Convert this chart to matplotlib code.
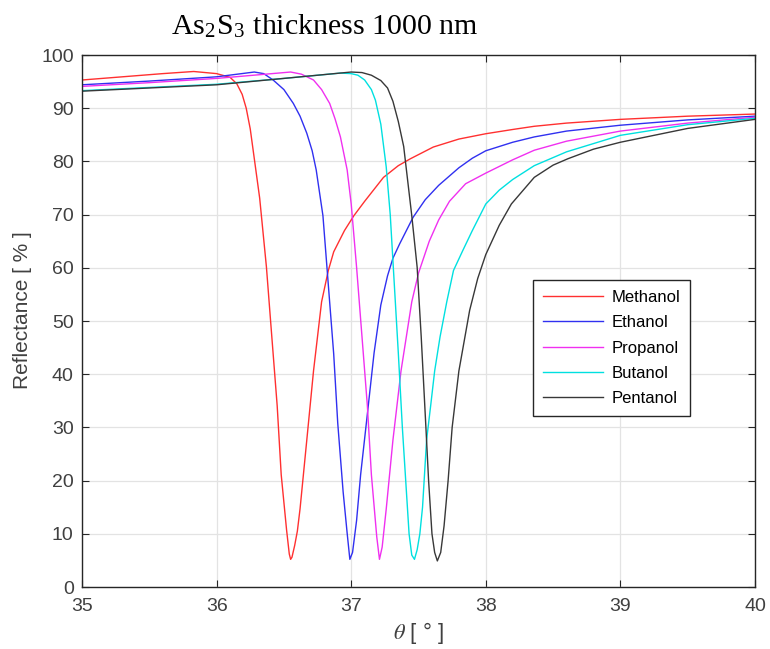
import matplotlib
matplotlib.use('Agg')
import matplotlib.pyplot as plt

# angle [deg] / reflectance [%]
x_meth = [35.0, 35.2, 35.4, 35.6, 35.83, 36.0, 36.1, 36.15, 36.19, 36.22, 36.25, 36.32, 36.37,
          36.41, 36.45, 36.48, 36.52, 36.54, 36.55, 36.56, 36.58, 36.6, 36.62, 36.67, 36.72,
          36.78, 36.83, 36.87, 36.95, 37.02, 37.1, 37.24, 37.35, 37.44, 37.61, 37.8, 38.0,
          38.2, 38.36, 38.6, 39.0, 39.5, 40.0]
y_meth = [95.3, 95.7, 96.1, 96.5, 96.9, 96.5, 95.8, 94.6, 92.6, 90.0, 86.1, 73.1, 60.2,
          47.1, 34.1, 21.1, 10.7, 6.2, 5.2, 5.6, 7.8, 10.5, 14.7, 27.6, 40.6,
          53.6, 59.5, 63.0, 67.0, 69.8, 72.5, 77.0, 79.2, 80.5, 82.7, 84.2, 85.2,
          86.0, 86.6, 87.2, 87.9, 88.5, 88.9]

x_eth = [35.0, 35.5, 36.0, 36.28, 36.35, 36.42, 36.5, 36.57, 36.62, 36.67, 36.71, 36.74, 36.79,
         36.83, 36.87, 36.9, 36.94, 36.97, 36.99, 37.01, 37.04, 37.07, 37.12, 37.17, 37.22,
         37.27, 37.31, 37.36, 37.46, 37.55, 37.65, 37.8, 37.9, 38.0, 38.2, 38.36, 38.6,
         39.0, 39.5, 40.0]
y_eth = [94.4, 95.1, 95.9, 96.8, 96.5, 95.3, 93.5, 90.9, 88.5, 85.3, 82.0, 78.4, 69.8,
         56.8, 43.8, 30.8, 17.9, 10.1, 5.2, 6.5, 12.5, 21.1, 32.5, 44.0, 53.0,
         58.5, 61.8, 64.5, 69.5, 72.8, 75.5, 78.8, 80.6, 82.0, 83.6, 84.6, 85.7,
         86.8, 87.8, 88.5]

x_prop = [35.0, 35.5, 36.0, 36.55, 36.63, 36.72, 36.78, 36.84, 36.88, 36.92, 36.97, 37.0,
          37.04, 37.08, 37.12, 37.15, 37.19, 37.21, 37.23, 37.26, 37.31, 37.37, 37.45, 37.5,
          37.58, 37.65, 37.73, 37.85, 38.0, 38.2, 38.36, 38.6, 39.0, 39.5, 40.0]
y_prop = [94.1, 94.8, 95.6, 96.8, 96.4, 95.3, 93.5, 90.9, 88.0, 84.6, 78.4, 72.0,
          60.1, 47.1, 34.1, 21.1, 9.4, 5.2, 7.5, 14.6, 27.6, 40.6, 53.6, 59.0,
          65.0, 69.0, 72.5, 75.8, 77.8, 80.3, 82.1, 83.8, 85.7, 87.2, 88.3]

x_but = [35.0, 35.5, 36.0, 36.5, 36.92, 37.0, 37.05, 37.1, 37.15, 37.18, 37.22, 37.26, 37.29,
         37.32, 37.35, 37.38, 37.41, 37.43, 37.45, 37.47, 37.49, 37.51, 37.53, 37.56, 37.59,
         37.62, 37.66, 37.71, 37.76, 37.83, 37.9, 38.0, 38.1, 38.2, 38.36, 38.6, 39.0,
         39.5, 40.0]
y_but = [93.3, 93.9, 94.5, 95.6, 96.6, 96.5, 96.2, 95.3, 93.5, 91.5, 87.0, 79.0, 70.0,
         57.0, 44.0, 30.0, 18.0, 10.0, 6.0, 5.2, 7.0, 10.0, 15.0, 27.6, 34.0,
         40.6, 47.0, 53.6, 59.5, 63.3, 67.0, 72.0, 74.6, 76.6, 79.2, 81.8, 84.9,
         86.9, 88.1]

x_pent = [35.0, 35.5, 36.0, 36.5, 37.0, 37.08, 37.15, 37.22, 37.27, 37.31, 37.35, 37.39, 37.45,
          37.49, 37.52, 37.555, 37.575, 37.6, 37.62, 37.64, 37.665, 37.69, 37.72, 37.75, 37.8,
          37.88, 37.94, 38.0, 38.1, 38.19, 38.36, 38.5, 38.61, 38.8, 39.0, 39.5, 40.0]
y_pent = [93.2, 93.8, 94.4, 95.6, 96.8, 96.7, 96.2, 95.2, 93.8, 91.3, 87.5, 82.8, 69.8,
          60.1, 47.1, 30.0, 20.0, 10.0, 6.5, 4.9, 6.5, 11.5, 20.0, 30.0, 40.6,
          52.0, 58.0, 62.5, 68.0, 72.0, 77.0, 79.3, 80.5, 82.3, 83.6, 86.2, 87.9]

labels = ['Methanol', 'Ethanol', 'Propanol', 'Butanol', 'Pentanol']
colors = ['#ff3030', '#3030f0', '#f030f0', '#00e0e0', '#383838']

plt.rcParams['font.family'] = ['Liberation Sans', 'DejaVu Sans']
plt.rcParams['mathtext.fontset'] = 'stix'

fig = plt.figure(figsize=(7.7, 6.49), dpi=100)
ax = fig.add_axes([82/770, 1 - 587/649, 673/770, 532/649])

curves = [(x_meth, y_meth), (x_eth, y_eth), (x_prop, y_prop), (x_but, y_but), (x_pent, y_pent)]
for (xs, ys), lab, c in zip(curves, labels, colors):
    ax.plot(xs, ys, color=c, lw=1.0, label=lab)

ax.set_xlim(35, 40)
ax.set_ylim(0, 100)
ax.set_xticks(range(35, 41))
ax.set_yticks(range(0, 101, 10))
ax.grid(True, color='#e3e3e3', lw=0.9)
ax.set_axisbelow(True)
ax.tick_params(direction='in', length=5, top=True, right=True, labelsize=14,
               colors='#262626', labelcolor='#404040')
ax.tick_params(axis='x', pad=8)
ax.tick_params(axis='y', pad=6)
for s in ax.spines.values():
    s.set_color('#262626')
    s.set_linewidth(1.0)

ax.set_ylabel('Reflectance [ % ]', fontsize=15, color='#404040')
ax.yaxis.set_label_coords(-0.075, 0.52)
ax.set_xlabel(r'$\theta$ [ ° ]', fontsize=16, color='#404040')
ax.xaxis.set_label_coords(0.5, -0.062)

leg = ax.legend(loc='lower left', bbox_to_anchor=(0.67, 0.321), fontsize=12,
                handlelength=3.6, handletextpad=0.5, labelspacing=0.62, fancybox=False,
                framealpha=1, edgecolor='#262626', borderpad=0.6, borderaxespad=0)
leg.get_frame().set_linewidth(1.0)

fig.text(325/770, 1 - 26/649, r'As$_\mathregular{2}$S$_\mathregular{3}$ thickness 1000 nm',
         ha='center', va='center', fontsize=21.5, family='Liberation Serif')

fig.savefig('out.png', dpi=100)
